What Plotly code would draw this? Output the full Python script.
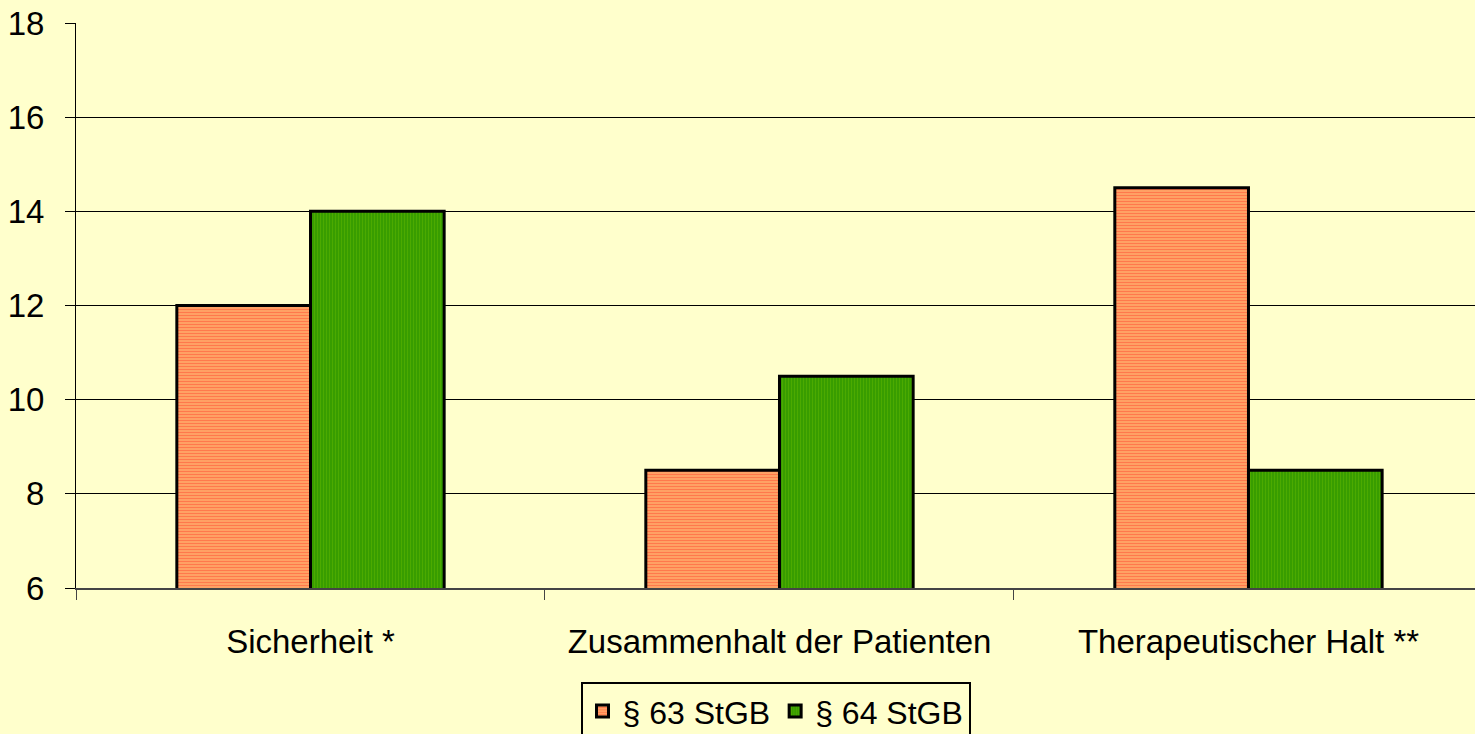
import plotly.graph_objects as go

categories = ["Sicherheit *", "Zusammenhalt der Patienten", "Therapeutischer Halt **"]
series_names = ["§ 63 StGB", "§ 64 StGB"]
values_63 = [12, 8.5, 14.5]
values_64 = [14, 10.5, 8.5]

BG = "#FFFFCC"
FONT = "Liberation Sans, Arial, sans-serif"

fig = go.Figure()
fig.add_trace(go.Bar(
    x=categories, y=values_63, name=series_names[0],
    marker=dict(color="#FFA060", line=dict(color="black", width=3),
                pattern=dict(shape="-", fgcolor="#FF4A30", bgcolor="#FFA868", size=3, solidity=0.45)),
))
fig.add_trace(go.Bar(
    x=categories, y=values_64, name=series_names[1],
    marker=dict(color="#339900", line=dict(color="black", width=3),
                pattern=dict(shape="|", fgcolor="#66BB00", bgcolor="#339900", size=3, solidity=0.45)),
))

fig.update_layout(
    width=1475, height=734,
    paper_bgcolor=BG, plot_bgcolor=BG,
    margin=dict(l=76, r=0, t=23, b=146, autoexpand=False),
    barmode="group", bargap=0.43, bargroupgap=0,
    font=dict(family=FONT, size=33, color="black"),
    showlegend=True,
    legend=dict(orientation="h", x=0.5, xanchor="center", y=-0.166, yanchor="top",
                bgcolor=BG, bordercolor="black", borderwidth=2,
                font=dict(size=32), itemwidth=30, traceorder="normal"),
)
fig.update_xaxes(
    range=[-0.5, 2.483],
    showline=True, linecolor="#444444", linewidth=2,
    ticks="outside", tickson="boundaries", ticklen=10, tickcolor="#444444", tickwidth=1,
    ticklabelstandoff=23, showgrid=False,
)
fig.update_yaxes(
    range=[6, 18], dtick=2, tick0=6,
    showline=True, linecolor="black", linewidth=1,
    ticks="outside", ticklen=10, tickcolor="black",
    showgrid=True, gridcolor="black", gridwidth=1,
    ticklabelstandoff=14, zeroline=False,
)

fig.write_html("out.html", config={"displayModeBar": False},
               post_script="document.body.style.margin='0';document.body.style.overflow='hidden';")
